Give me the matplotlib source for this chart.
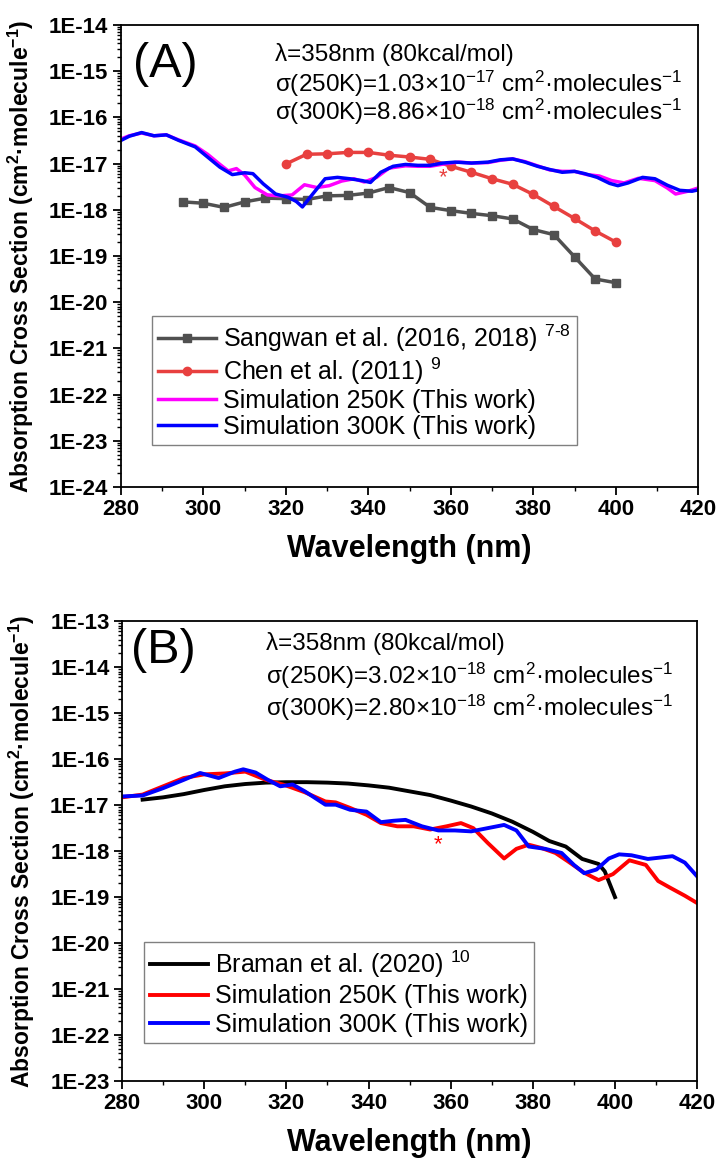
import numpy as np
import matplotlib
matplotlib.use('Agg')
import matplotlib.pyplot as plt
from matplotlib.ticker import FixedLocator, LogLocator, MultipleLocator, NullFormatter

plt.rcParams['font.family'] = ['Liberation Sans', 'DejaVu Sans']
plt.rcParams['mathtext.default'] = 'regular'

# ---- Panel A data (log10 of cross section) ----
wl_sangwan = [295, 300, 305, 310, 315, 320, 325, 330, 335, 340, 345, 350,
              355, 360, 365, 370, 375, 380, 385, 390, 395, 400]
log_sangwan = [-17.83, -17.86, -17.95, -17.83, -17.75, -17.76, -17.78, -17.70,
               -17.69, -17.64, -17.52, -17.63, -17.95, -18.02, -18.08, -18.13,
               -18.20, -18.43, -18.54, -19.02, -19.50, -19.58]

wl_chen = [320, 325, 330, 335, 340, 345, 350, 355, 360, 365, 370, 375,
           380, 385, 390, 395, 400]
log_chen = [-17.01, -16.80, -16.79, -16.76, -16.76, -16.82, -16.86, -16.91,
            -17.06, -17.19, -17.33, -17.45, -17.67, -17.93, -18.19, -18.46, -18.70]

wl_a300 = [280, 282, 285, 288, 291, 294, 298, 301, 304, 307, 310, 312,
           314.5, 317.5, 320.5, 322.5, 324, 326.5, 329.5, 332.5, 335.5, 338.5,
           340.5, 343, 346, 349, 352, 355, 358, 361, 365, 369, 372, 375, 378,
           381, 384, 387, 390, 392.5, 395.5, 398.5, 400.5, 403, 406.5, 409.5,
           412.5, 415.5, 418.5, 420]
log_a300 = [-16.50, -16.41, -16.33, -16.40, -16.38, -16.50, -16.64, -16.86,
            -17.08, -17.24, -17.20, -17.22, -17.44, -17.66, -17.73, -17.82,
            -17.94, -17.66, -17.33, -17.30, -17.33, -17.37, -17.41, -17.19,
            -17.06, -17.02, -17.04, -17.04, -16.99, -16.97, -16.99, -16.97,
            -16.92, -16.90, -16.97, -17.06, -17.13, -17.19, -17.17, -17.22,
            -17.30, -17.43, -17.48, -17.42, -17.30, -17.33, -17.47, -17.58,
            -17.60, -17.57]

wl_a250 = [280, 282, 285, 288, 291, 294, 298, 301, 304, 306, 308, 310,
           312.5, 315.5, 318.5, 321.5, 324.5, 327.5, 330.5, 333.5, 336.5, 339,
           342, 345, 349, 352, 355, 359, 362, 365, 369, 372, 375, 378, 381,
           384, 387, 390, 393, 396, 399, 402, 405.5, 409.5, 412.5, 414.5,
           417.5, 420]
log_a250 = [-16.47, -16.40, -16.34, -16.40, -16.38, -16.49, -16.62, -16.80,
            -17.02, -17.16, -17.11, -17.25, -17.52, -17.68, -17.70, -17.68,
            -17.46, -17.52, -17.48, -17.38, -17.33, -17.40, -17.30, -17.10,
            -17.05, -17.06, -17.06, -17.00, -16.97, -16.99, -16.98, -16.93,
            -16.90, -16.96, -17.05, -17.14, -17.17, -17.17, -17.24, -17.27,
            -17.37, -17.42, -17.32, -17.37, -17.53, -17.66, -17.60, -17.53]

# ---- Panel B data ----
wl_braman = [285, 290, 295, 300, 305, 310, 315, 320, 325, 330, 335, 340,
             345, 350, 355, 360, 365, 370, 375, 380, 384, 388, 392, 396, 397.5, 400]
log_braman = [-16.88, -16.83, -16.76, -16.67, -16.59, -16.54, -16.51, -16.50,
              -16.50, -16.51, -16.53, -16.57, -16.62, -16.70, -16.78, -16.90,
              -17.03, -17.18, -17.36, -17.58, -17.78, -17.90, -18.17, -18.28,
              -18.44, -19.00]

wl_b250 = [280, 285, 290, 295, 300, 305, 310, 315, 319.5, 324.5, 329.5, 332,
           335.5, 339.5, 343, 347, 351, 355, 359, 362.5, 365.5, 369, 373, 376,
           379, 382, 385.5, 388.5, 392.5, 396, 399.5, 403.5, 407.5, 410.5,
           413.5, 417, 420]
log_b250 = [-16.83, -16.77, -16.59, -16.41, -16.33, -16.31, -16.27, -16.45,
            -16.56, -16.72, -16.92, -16.94, -17.06, -17.21, -17.39, -17.46,
            -17.46, -17.53, -17.46, -17.39, -17.50, -17.82, -18.16, -17.95,
            -17.86, -17.93, -18.04, -18.22, -18.47, -18.63, -18.50, -18.20,
            -18.30, -18.65, -18.80, -18.97, -19.13]

wl_b300 = [280, 285, 290, 295, 299, 303.5, 307.5, 309.5, 312.5, 315.5, 318.5,
           321.5, 324.5, 329.5, 332, 335.5, 339.5, 343, 346, 349, 353, 357,
           361, 365, 369, 373, 376, 379, 383, 387, 390, 392.5, 395.5, 398.5,
           401, 404, 408, 411, 414, 417, 420]
log_b300 = [-16.81, -16.79, -16.63, -16.45, -16.30, -16.41, -16.27, -16.22,
            -16.29, -16.45, -16.59, -16.55, -16.70, -16.99, -16.99, -17.10,
            -17.14, -17.37, -17.34, -17.32, -17.46, -17.55, -17.55, -17.57,
            -17.50, -17.43, -17.55, -17.90, -17.95, -18.04, -18.30, -18.48,
            -18.40, -18.16, -18.07, -18.09, -18.17, -18.14, -18.11, -18.25,
            -18.55]

ticks_a = [10.0 ** e for e in range(-24, -13)]
labels_a = ['1E%d' % e for e in range(-24, -13)]
ticks_b = [10.0 ** e for e in range(-23, -12)]
labels_b = ['1E%d' % e for e in range(-23, -12)]

ylab = 'Absorption Cross Section (cm$^{2}$·molecule$^{-1}$)'


def style_axes(ax, ticks, labels):
    ax.set_xlim(280, 420)
    ax.set_yscale('log')
    ax.set_ylim(ticks[0], ticks[-1])
    ax.yaxis.set_major_locator(FixedLocator(ticks))
    ax.set_yticklabels(labels)
    ax.yaxis.set_minor_locator(LogLocator(base=10, subs=np.arange(2, 10), numticks=30))
    ax.yaxis.set_minor_formatter(NullFormatter())
    ax.xaxis.set_major_locator(MultipleLocator(20))
    ax.xaxis.set_minor_locator(MultipleLocator(10))
    ax.tick_params(which='major', direction='out', length=6, width=1.3,
                   labelsize=16, pad=3)
    ax.tick_params(which='minor', direction='out', length=3, width=1.0)
    for t in ax.get_xticklabels() + ax.get_yticklabels():
        t.set_fontweight('bold')
    for s in ax.spines.values():
        s.set_linewidth(1.3)
    ax.set_xlabel('Wavelength (nm)', fontsize=22, fontweight='bold', labelpad=10)
    ax.set_ylabel(ylab, fontsize=16.5, fontweight='bold')
    ax.yaxis.set_label_coords(-0.148, 0.5)


def add_notes(ax, x0, ys, lines):
    for y, s in zip(ys, lines):
        ax.text(x0, y, s, transform=ax.transAxes, fontsize=17.5, va='center')


def add_legend(ax, anchor, spacing):
    leg = ax.legend(loc='upper left', bbox_to_anchor=anchor, fontsize=18,
                    handlelength=2.3, handletextpad=0.28, labelspacing=spacing,
                    borderpad=0.25, borderaxespad=0, fancybox=False, framealpha=1)
    leg.get_frame().set_edgecolor('#808080')
    leg.get_frame().set_linewidth(1.0)


fig = plt.figure(figsize=(7.18, 11.58), dpi=100)

# ---- Panel A ----
ax1 = fig.add_axes([0.1685, 0.5795, 0.804, 0.399])
ax1.plot(wl_sangwan, 10 ** np.array(log_sangwan), color='#505050', lw=2.5,
         marker='s', ms=6, label='Sangwan et al. (2016, 2018) $^{7\u20108}$')
ax1.plot(wl_chen, 10 ** np.array(log_chen), color='#e8403f', lw=2.5,
         marker='o', ms=6, label='Chen et al. (2011) $^{9}$')
ax1.plot(wl_a250, 10 ** np.array(log_a250), color='#ff00ff', lw=2.5,
         label='Simulation 250K (This work)')
ax1.plot(wl_a300, 10 ** np.array(log_a300), color='#0000ff', lw=2.5,
         label='Simulation 300K (This work)')
style_axes(ax1, ticks_a, labels_a)
ax1.text(0.02, 0.915, '(A)', transform=ax1.transAxes, fontsize=35, va='center')
add_notes(ax1, 0.266, [0.935, 0.872, 0.811],
          ['λ=358nm (80kcal/mol)',
           'σ(250K)=1.03×10$^{-17}$ cm$^{2}$·molecules$^{-1}$',
           'σ(300K)=8.86×10$^{-18}$ cm$^{2}$·molecules$^{-1}$'])
ax1.text(358, 10 ** -17.3, '*', color='#e8403f', fontsize=16, ha='center', va='center')
add_legend(ax1, (0.054, 0.37), 0.08)

# ---- Panel B ----
ax2 = fig.add_axes([0.170, 0.0665, 0.801, 0.397])
ax2.plot(wl_braman, 10 ** np.array(log_braman), color='black', lw=2.8,
         label='Braman et al. (2020) $^{10}$')
ax2.plot(wl_b250, 10 ** np.array(log_b250), color='#ff0000', lw=2.8,
         label='Simulation 250K (This work)')
ax2.plot(wl_b300, 10 ** np.array(log_b300), color='#0000ff', lw=2.8,
         label='Simulation 300K (This work)')
style_axes(ax2, ticks_b, labels_b)
ax2.text(0.015, 0.937, '(B)', transform=ax2.transAxes, fontsize=35, va='center')
add_notes(ax2, 0.25, [0.952, 0.882, 0.812],
          ['λ=358nm (80kcal/mol)',
           'σ(250K)=3.02×10$^{-18}$ cm$^{2}$·molecules$^{-1}$',
           'σ(300K)=2.80×10$^{-18}$ cm$^{2}$·molecules$^{-1}$'])
ax2.text(357, 10 ** -17.85, '*', color='#ff0000', fontsize=16, ha='center', va='center')
add_legend(ax2, (0.038, 0.302), 0.18)

fig.savefig('out.png', dpi=100)
